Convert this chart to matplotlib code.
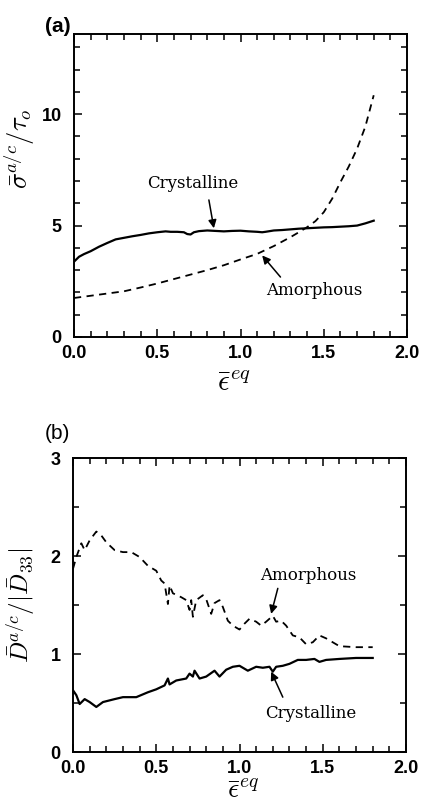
import matplotlib
matplotlib.use("Agg")
import matplotlib.pyplot as plt
from matplotlib.ticker import MultipleLocator

plt.rcParams['mathtext.fontset'] = 'cm'

# Panel (a)
a_cryst_x = [0.0, 0.03, 0.06, 0.1, 0.15, 0.2, 0.25, 0.3, 0.35, 0.4, 0.45, 0.5, 0.55, 0.58, 0.62, 0.66,
             0.68, 0.7, 0.72, 0.75, 0.8, 0.85, 0.9, 0.95, 1.0, 1.05, 1.1, 1.13, 1.15, 1.2, 1.25,
             1.3, 1.35, 1.4, 1.45, 1.5, 1.55, 1.6, 1.65, 1.7, 1.75, 1.8]
a_cryst_y = [3.38, 3.6, 3.72, 3.85, 4.05, 4.22, 4.38, 4.45, 4.52, 4.58, 4.65, 4.7, 4.74, 4.72, 4.72, 4.7,
             4.62, 4.6, 4.7, 4.75, 4.78, 4.76, 4.74, 4.76, 4.77, 4.74, 4.72, 4.7, 4.72, 4.78, 4.8,
             4.83, 4.86, 4.88, 4.9, 4.92, 4.93, 4.95, 4.97, 5.0, 5.1, 5.22]
a_amor_x = [0.0, 0.1, 0.2, 0.3, 0.4, 0.5, 0.6, 0.7, 0.8, 0.9, 1.0, 1.1, 1.2, 1.3, 1.35, 1.4,
            1.45, 1.5, 1.55, 1.6, 1.65, 1.7, 1.75, 1.8]
a_amor_y = [1.75, 1.85, 1.95, 2.05, 2.22, 2.4, 2.6, 2.8, 3.0, 3.22, 3.48, 3.73, 4.08, 4.48, 4.7, 4.93,
            5.2, 5.6, 6.2, 6.95, 7.65, 8.45, 9.45, 10.85]

# Panel (b)
b_amor_x = [0.0, 0.02, 0.05, 0.07, 0.1, 0.14, 0.17, 0.2, 0.25, 0.3, 0.35, 0.4, 0.45, 0.5, 0.53, 0.55,
            0.57, 0.58, 0.6, 0.65, 0.68, 0.7, 0.71, 0.72, 0.74, 0.78, 0.8, 0.83, 0.85, 0.88, 0.9,
            0.93, 0.96, 1.0, 1.03, 1.06, 1.1, 1.13, 1.16, 1.2, 1.22, 1.25, 1.28, 1.32, 1.36, 1.4,
            1.44, 1.48, 1.52, 1.56, 1.6, 1.7, 1.8]
b_amor_y = [1.87, 1.99, 2.13, 2.06, 2.16, 2.25, 2.21, 2.14, 2.06, 2.04, 2.04, 1.99, 1.9, 1.85, 1.75, 1.72,
            1.51, 1.7, 1.62, 1.58, 1.55, 1.45, 1.55, 1.38, 1.55, 1.6, 1.56, 1.41, 1.52, 1.55, 1.48,
            1.34, 1.29, 1.25, 1.31, 1.36, 1.33, 1.29, 1.33, 1.39, 1.33, 1.34, 1.29, 1.19, 1.17, 1.1,
            1.12, 1.19, 1.16, 1.12, 1.08, 1.07, 1.07]
b_cryst_x = [0.0, 0.02, 0.04, 0.07, 0.1, 0.14, 0.18, 0.25, 0.3, 0.38, 0.45, 0.5, 0.55, 0.57, 0.58,
             0.62, 0.68, 0.7, 0.72, 0.73, 0.76, 0.8, 0.85, 0.88, 0.92, 0.96, 1.0, 1.05, 1.1, 1.14,
             1.18, 1.2, 1.22, 1.26, 1.3, 1.35, 1.4, 1.45, 1.48, 1.52, 1.6, 1.7, 1.8]
b_cryst_y = [0.63, 0.58, 0.49, 0.54, 0.51, 0.46, 0.51, 0.54, 0.56, 0.56, 0.61, 0.64, 0.68, 0.75, 0.69,
             0.73, 0.75, 0.8, 0.77, 0.83, 0.75, 0.77, 0.83, 0.77, 0.84, 0.87, 0.88, 0.83, 0.87, 0.86,
             0.87, 0.82, 0.87, 0.88, 0.9, 0.94, 0.94, 0.95, 0.92, 0.94, 0.95, 0.96, 0.96]

fig = plt.figure(figsize=(4.21, 8.05), dpi=100)
axa = fig.add_axes([0.1758, 0.5814, 0.791, 0.3764])
axb = fig.add_axes([0.1734, 0.0658, 0.791, 0.3652])

tickfont = dict(family='Liberation Sans', weight='bold', size=13)

for ax in (axa, axb):
    ax.set_xlim(0, 2.0)
    ax.xaxis.set_major_locator(MultipleLocator(0.5))
    ax.xaxis.set_minor_locator(MultipleLocator(0.1))
    ax.tick_params(which='both', direction='in', top=True, right=True, width=1.1)
    ax.tick_params(which='major', length=6)
    ax.tick_params(which='minor', length=4)
    ax.tick_params(axis='x', which='major', pad=6)
    ax.tick_params(axis='y', which='major', pad=9)
    for s in ax.spines.values():
        s.set_linewidth(1.4)
    ax.set_xticks([0, 0.5, 1.0, 1.5, 2.0])
    ax.set_xticklabels(['0.0', '0.5', '1.0', '1.5', '2.0'], fontdict=tickfont)

# (a)
axa.plot(a_cryst_x, a_cryst_y, color='black', lw=1.6)
axa.plot(a_amor_x, a_amor_y, color='black', lw=1.3, linestyle=(0, (4, 3)))
axa.set_ylim(0, 13.6)
axa.yaxis.set_minor_locator(MultipleLocator(1))
axa.set_yticks([0, 5, 10])
axa.set_yticklabels(['0', '5', '10'], fontdict=tickfont)
axa.set_xlabel(r'$\bar{\epsilon}^{eq}$', fontsize=21)
axa.xaxis.set_label_coords(0.48, -0.105)
axa.set_ylabel(r'$\bar{\sigma}^{a/c}/\tau_o$', fontsize=19)
axa.yaxis.set_label_coords(-0.112, 0.62)
arrow = dict(arrowstyle='-|>', mutation_scale=12, lw=1.1, color='black', shrinkA=0, shrinkB=0)
axa.annotate('', xy=(0.84, 4.88), xytext=(0.81, 6.15), arrowprops=arrow)
axa.text(0.715, 6.9, 'Crystalline', family='DejaVu Serif', fontsize=12, ha='center', va='center')
axa.annotate('', xy=(1.13, 3.66), xytext=(1.24, 2.69), arrowprops=arrow)
axa.text(1.445, 2.1, 'Amorphous', family='DejaVu Serif', fontsize=12, ha='center', va='center')

# (b)
axb.plot(b_cryst_x, b_cryst_y, color='black', lw=1.6)
axb.plot(b_amor_x, b_amor_y, color='black', lw=1.3, linestyle=(0, (4, 3)))
axb.set_ylim(0, 3)
axb.yaxis.set_minor_locator(MultipleLocator(0.5))
axb.set_yticks([0, 1, 2, 3])
axb.set_yticklabels(['0', '1', '2', '3'], fontdict=tickfont)
axb.set_xlabel(r'$\bar{\epsilon}^{eq}$', fontsize=20)
axb.xaxis.set_label_coords(0.51, -0.082)
axb.set_ylabel(r'$\bar{D}^{a/c}/|\bar{D}_{33}|$', fontsize=18)
axb.yaxis.set_label_coords(-0.108, 0.5)
axb.annotate('', xy=(1.19, 1.41), xytext=(1.23, 1.67), arrowprops=arrow)
axb.text(1.415, 1.8, 'Amorphous', family='DejaVu Serif', fontsize=12, ha='center', va='center')
axb.annotate('', xy=(1.19, 0.82), xytext=(1.26, 0.56), arrowprops=arrow)
axb.text(1.43, 0.39, 'Crystalline', family='DejaVu Serif', fontsize=12, ha='center', va='center')

fig.text(45 / 421, 1 - 27 / 805, '(a)', family='Liberation Sans', weight='bold', fontsize=15, va='center')
fig.text(45 / 421, 1 - 433 / 805, '(b)', family='Liberation Sans', fontsize=15, va='center')

fig.savefig('out.png', dpi=100)
